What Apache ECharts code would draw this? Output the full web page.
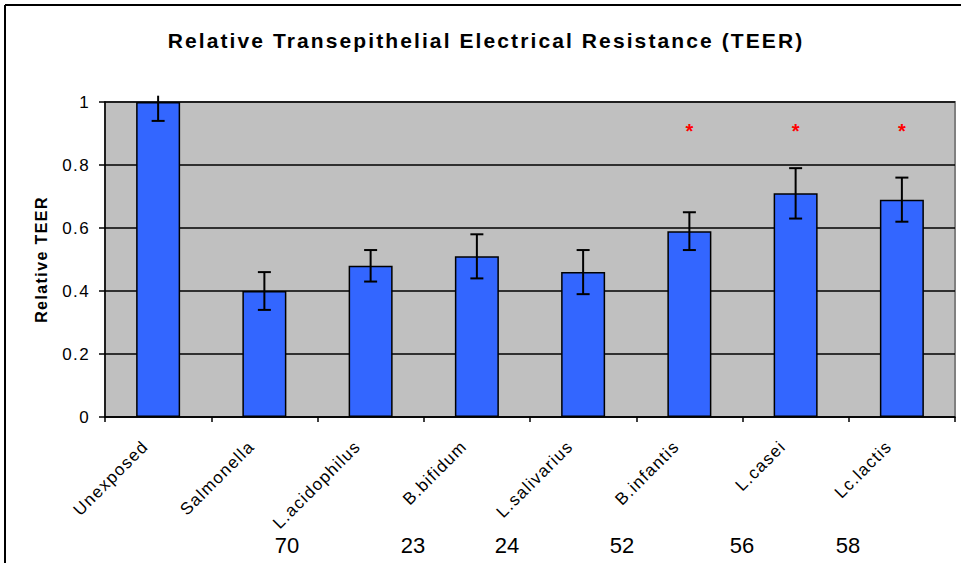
<!DOCTYPE html>
<html>
<head>
<meta charset="utf-8">
<script src="https://cdn.jsdelivr.net/npm/echarts@6/dist/echarts.min.js"></script>
<style>
html,body{margin:0;padding:0;background:#fff;}
#chart{width:961px;height:563px;}
</style>
</head>
<body>
<div id="chart"></div>
<script>
var categories = ['Unexposed','Salmonella','L.acidophilus','B.bifidum','L.salivarius','B.infantis','L.casei','Lc.lactis'];
var teerValues = [1.00, 0.40, 0.48, 0.51, 0.46, 0.59, 0.71, 0.69];
var errLow     = [0.94, 0.34, 0.43, 0.44, 0.39, 0.53, 0.63, 0.62];
var errHigh    = [1.02, 0.46, 0.53, 0.58, 0.53, 0.65, 0.79, 0.76];
var errHasTopCap = [false, true, true, true, true, true, true, true];
var sigMarks   = ['', '', '', '', '', '*', '*', '*'];
var sigLevel   = 0.92;
var yTicks     = [0, 0.2, 0.4, 0.6, 0.8, 1];
var bottomNumbers = ['70','23','24','52','56','58'];
var titleText = 'Relative Transepithelial Electrical Resistance (TEER)';

var FONT = '"Liberation Sans", Arial, sans-serif';
var chart = echarts.init(document.getElementById('chart'), null, {renderer:'svg'});

var errData = categories.map(function(c,i){ return [i, errLow[i], errHigh[i], errHasTopCap[i] ? 1 : 0]; });
var sigData = categories.map(function(c,i){ return [i, sigLevel, sigMarks[i]]; }).filter(function(d){ return d[2]; });

var numXs = [287, 413, 507, 622, 742, 848];

var option = {
  animation: false,
  backgroundColor: '#fff',
  title: {
    text: titleText,
    left: 481, top: 25, textAlign: 'center',
    textStyle: {fontFamily: FONT, fontWeight: 'bold', fontSize: 21, color: '#000'}
  },
  grid: {left: 105, right: 6, top: 102, bottom: 146, show: true, backgroundColor: '#c0c0c0', borderColor: '#808080', borderWidth: 2},
  xAxis: {
    type: 'category', data: categories,
    axisLine: {show: true, lineStyle: {color: '#000', width: 1.5}},
    axisTick: {show: true, alignWithLabel: false, length: 5, lineStyle: {color: '#000', width: 1.5}},
    axisLabel: {rotate: 45, interval: 0, margin: 14, padding: [0, 18, 0, 0], fontFamily: FONT, fontSize: 17, color: '#000'},
    splitLine: {show: false}
  },
  yAxis: {
    type: 'value', min: 0, max: 1, interval: 0.2,
    name: 'Relative TEER', nameLocation: 'middle', nameGap: 56, nameRotate: 90,
    nameTextStyle: {fontFamily: FONT, fontWeight: 'bold', fontSize: 16, color: '#000'},
    axisLine: {show: true, lineStyle: {color: '#000', width: 1.5}},
    axisTick: {show: true, length: 6, inside: false, lineStyle: {color: '#000', width: 1.5}},
    axisLabel: {fontFamily: FONT, fontSize: 17, color: '#000', margin: 15,
      formatter: function(v){ return String(Math.round(v*10)/10); }},
    splitLine: {show: true, lineStyle: {color: '#000', width: 1.5}}
  },
  series: [
    {
      type: 'bar', data: teerValues, barWidth: 44,
      itemStyle: {color: '#3366ff', borderColor: '#000', borderWidth: 1.5},
      z: 2
    },
    {
      type: 'custom', data: errData, z: 5, clip: false,
      renderItem: function(params, api){
        var x = api.coord([api.value(0), 0])[0];
        var lo = api.coord([api.value(0), api.value(1)])[1];
        var hi = api.coord([api.value(0), api.value(2)])[1];
        var cap = 6.5;
        var ls = {stroke: '#000', lineWidth: 2};
        var children = [
          {type: 'line', shape: {x1: x, y1: hi, x2: x, y2: lo}, style: ls},
          {type: 'line', shape: {x1: x-cap, y1: lo, x2: x+cap, y2: lo}, style: ls}
        ];
        if (api.value(3)) children.push({type: 'line', shape: {x1: x-cap, y1: hi, x2: x+cap, y2: hi}, style: ls});
        return {type: 'group', children: children};
      }
    },
    {
      type: 'custom', data: sigData, z: 6,
      renderItem: function(params, api){
        var p = api.coord([api.value(0), api.value(1)]);
        return {type: 'text', style: {text: sigData[params.dataIndex][2], x: p[0], y: p[1]+4,
          textAlign: 'center', textVerticalAlign: 'middle', fill: '#ff0000',
          font: 'bold 20px ' + FONT}};
      }
    }
  ],
  graphic: [
    {type: 'line', shape: {x1: 5, y1: 5, x2: 961, y2: 5}, style: {stroke: '#000', lineWidth: 2}},
    {type: 'line', shape: {x1: 5, y1: 5, x2: 5, y2: 563}, style: {stroke: '#000', lineWidth: 2}}
  ].concat(bottomNumbers.map(function(t,i){
    return {type: 'text', x: numXs[i], y: 545, style: {text: t, textAlign: 'center', textVerticalAlign: 'middle',
      font: '22px ' + FONT, fill: '#000'}};
  }))
};
chart.setOption(option);

function applySpacing(){
  var texts = chart.getDom().querySelectorAll('text');
  texts.forEach(function(t){
    var s = t.textContent;
    if (s === titleText) t.style.letterSpacing = '2.1px';
    else if (bottomNumbers.indexOf(s) >= 0 || s === '*') t.style.letterSpacing = '0px';
    else if (categories.indexOf(s) >= 0) t.style.letterSpacing = '1.3px';
    else t.style.letterSpacing = '1.4px';
  });
}
applySpacing();
chart.on('finished', applySpacing);
setTimeout(applySpacing, 0);
</script>
</body>
</html>
